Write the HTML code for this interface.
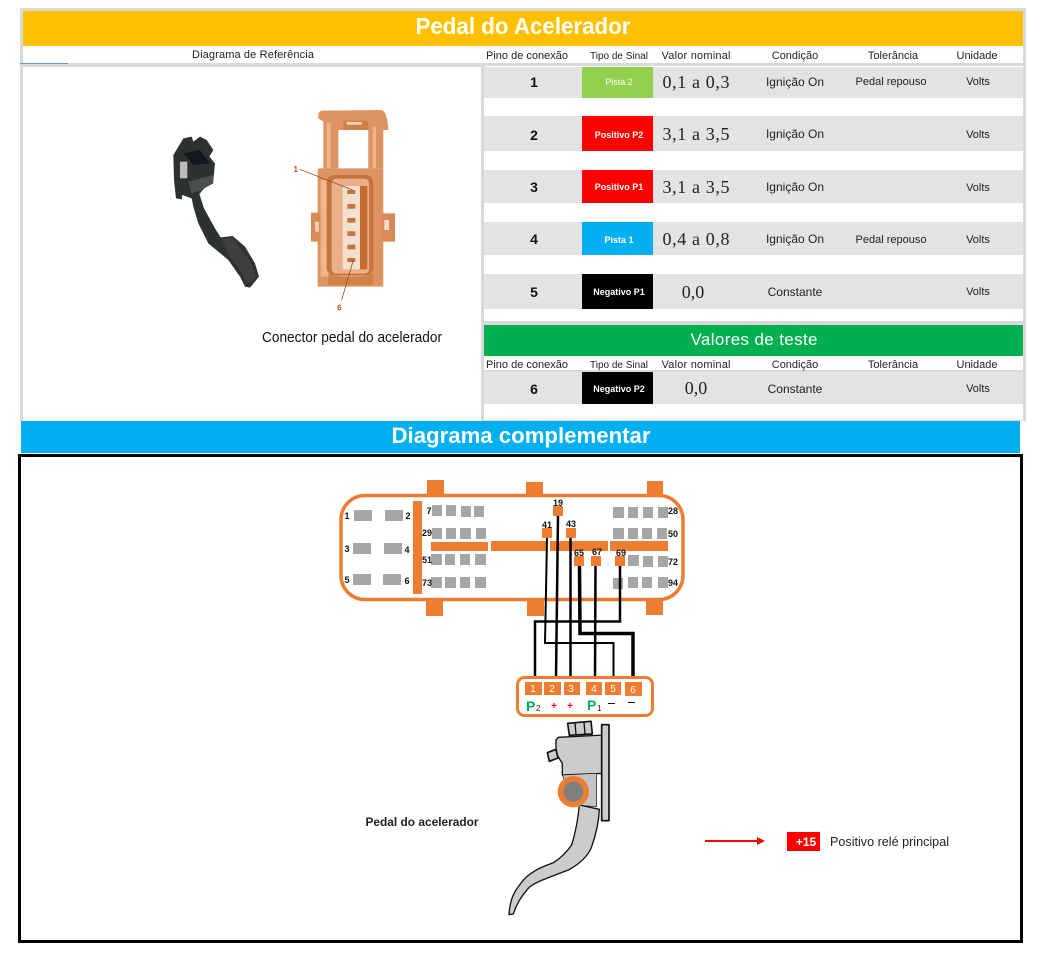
<!DOCTYPE html>
<html><head><meta charset="utf-8"><style>
html,body{margin:0;padding:0;background:#fff;width:1037px;height:961px;overflow:hidden}
svg{display:block}
text{font-family:"Liberation Sans",sans-serif}
.h{font-size:11px;fill:#222;text-anchor:middle}
.c{font-size:12px;fill:#222;text-anchor:middle}
.u{font-size:11px;fill:#222;text-anchor:middle}
.n{font-size:14px;font-weight:bold;fill:#111;text-anchor:middle}
.v{font-family:"Liberation Serif",serif;font-size:18px;fill:#222;text-anchor:middle}
.s{font-size:9px;font-weight:bold;fill:#fff;text-anchor:middle}
.p{font-size:9px;font-weight:bold;fill:#111;text-anchor:middle}
.w{font-size:10px;fill:#fff;text-anchor:middle}
</style></head><body>
<svg width="1037" height="961" viewBox="0 0 1037 961" xmlns="http://www.w3.org/2000/svg">
<rect width="1037" height="961" fill="#fff"/>
<!-- frame -->
<rect x="20" y="8" width="1006" height="413" fill="#d9d9d9"/>
<rect x="23" y="11" width="1000" height="35" fill="#ffc000"/>
<rect x="23" y="46" width="1000" height="17" fill="#fff"/>
<rect x="20" y="63" width="48" height="1" fill="#5b9bd5"/>
<rect x="23" y="67" width="458" height="354" fill="#fff"/>
<rect x="484" y="66" width="539" height="255" fill="#fff"/>
<rect x="484" y="356" width="539" height="14" fill="#fff"/>
<rect x="484" y="372" width="539" height="48" fill="#fff"/>
<text x="523" y="34" font-size="23" font-weight="bold" fill="#fff" text-anchor="middle" textLength="215" lengthAdjust="spacingAndGlyphs">Pedal do Acelerador</text>
<text x="253" y="58" font-size="11" fill="#222" text-anchor="middle" textLength="122">Diagrama de Referência</text>
<!-- headers -->
<g>
<text class="h" x="527" y="59">Pino de conexão</text><text class="h" x="619" y="59" style="font-size:10px">Tipo de Sinal</text><text class="h" x="696" y="59" textLength="69">Valor nominal</text><text class="h" x="795" y="59">Condição</text><text class="h" x="893" y="59">Tolerância</text><text class="h" x="977" y="59">Unidade</text>
</g>
<!-- rows -->
<g fill="#e3e3e3">
<rect x="484" y="67" width="539" height="31"/><rect x="484" y="116" width="539" height="35"/><rect x="484" y="170" width="539" height="33"/><rect x="484" y="222" width="539" height="33"/><rect x="484" y="274" width="539" height="35"/><rect x="484" y="372" width="539" height="32"/>
</g>
<rect x="582" y="67" width="71" height="31" fill="#92d050"/>
<rect x="582" y="116" width="71" height="35" fill="#ff0000"/>
<rect x="582" y="170" width="71" height="33" fill="#ff0000"/>
<rect x="582" y="222" width="71" height="33" fill="#00b0f0"/>
<rect x="582" y="274" width="71" height="35" fill="#000"/>
<rect x="582" y="372" width="71" height="32" fill="#000"/>
<text class="n" x="534" y="87">1</text><text class="n" x="534" y="140">2</text><text class="n" x="534" y="192">3</text><text class="n" x="534" y="244">4</text><text class="n" x="534" y="297">5</text><text class="n" x="534" y="394">6</text>
<text class="s" x="619" y="85" style="font-weight:normal">Pista 2</text><text class="s" x="619" y="138">Positivo P2</text><text class="s" x="619" y="190">Positivo P1</text><text class="s" x="619" y="243">Pista 1</text><text class="s" x="619" y="295">Negativo P1</text><text class="s" x="619" y="392">Negativo P2</text>
<text class="v" x="696" y="88" textLength="67">0,1 a 0,3</text><text class="v" x="696" y="140" textLength="67">3,1 a 3,5</text><text class="v" x="696" y="193" textLength="67">3,1 a 3,5</text><text class="v" x="696" y="245" textLength="67">0,4 a 0,8</text><text class="v" x="693" y="298">0,0</text><text class="v" x="696" y="394">0,0</text>
<text class="c" x="795" y="86">Ignição On</text><text class="c" x="795" y="138">Ignição On</text><text class="c" x="795" y="191">Ignição On</text><text class="c" x="795" y="243">Ignição On</text><text class="c" x="795" y="296">Constante</text><text class="c" x="795" y="393">Constante</text>
<text class="u" x="891" y="85">Pedal repouso</text><text class="u" x="891" y="243">Pedal repouso</text>
<text class="u" x="978" y="85">Volts</text><text class="u" x="978" y="138">Volts</text><text class="u" x="978" y="191">Volts</text><text class="u" x="978" y="243">Volts</text><text class="u" x="978" y="295">Volts</text><text class="u" x="978" y="392">Volts</text>
<!-- green -->
<rect x="484" y="325" width="539" height="31" fill="#00b050"/>
<text x="754" y="345" font-size="17" fill="#fff" text-anchor="middle" textLength="127">Valores de teste</text>
<text class="h" x="527" y="368">Pino de conexão</text><text class="h" x="619" y="368" style="font-size:10px">Tipo de Sinal</text><text class="h" x="696" y="368" textLength="69">Valor nominal</text><text class="h" x="795" y="368">Condição</text><text class="h" x="893" y="368">Tolerância</text><text class="h" x="977" y="368">Unidade</text>
<!-- photo pedal -->
<g transform="translate(150,100) scale(.33333)">
<path d="M70 165L100 115L125 110L130 125L150 110L170 120L190 150L178 170L195 190L190 240L165 262L148 282L162 325L195 385L212 412L248 408L285 440L315 490L327 530L300 563L285 560L270 530L235 480L175 430L145 370L130 320L125 295L97 285L95 298L78 295L72 240Z" fill="#2e3131"/>
<path d="M100 160L150 150L180 190L130 195Z" fill="#15181a"/>
<path d="M115 245L190 225L190 250L150 272L125 280Z" fill="#4b4f50"/>
<rect x="90" y="185" width="22" height="50" fill="#bbb"/>
<path d="M215 415L250 415L305 490L318 530L295 555L270 510L235 465Z" fill="#3d3f3f"/>
</g>
<!-- photo connector -->
<g transform="translate(150,100) scale(.33333)">
<path d="M505 45Q505 32 520 32L695 30Q712 34 715 90L700 90L700 205L655 205L655 90L565 90L565 205L520 205L520 65L505 55Z" fill="#dd9362"/>
<rect x="580" y="62" width="75" height="28" fill="#cf8048"/>
<rect x="590" y="66" width="45" height="8" fill="#f4d2ba"/>
<rect x="530" y="70" width="12" height="135" fill="#eeb68f"/>
<rect x="668" y="80" width="10" height="125" fill="#eeb68f"/>
<rect x="503" y="205" width="197" height="355" rx="4" fill="#dd9362"/>
<rect x="483" y="338" width="30" height="87" fill="#d98a55"/>
<rect x="695" y="340" width="40" height="85" fill="#d98a55"/>
<rect x="495" y="365" width="12" height="30" fill="#f2cdb2"/>
<rect x="703" y="360" width="14" height="30" fill="#f5dcc9"/>
<rect x="512" y="240" width="30" height="290" fill="#eeb68f"/>
<rect x="530" y="225" width="140" height="300" rx="22" fill="#c4743c"/>
<rect x="545" y="236" width="112" height="285" rx="14" fill="#eab089"/>
<rect x="578" y="258" width="52" height="250" rx="6" fill="#f5dfcf"/>
<rect x="630" y="258" width="22" height="250" fill="#c56c30"/>
<g fill="#c4743c"><rect x="592" y="270" width="24" height="12"/><rect x="592" y="312" width="24" height="14"/><rect x="592" y="354" width="24" height="14"/><rect x="592" y="394" width="24" height="14"/><rect x="592" y="434" width="24" height="14"/><rect x="592" y="474" width="24" height="12"/></g>
<path d="M535 520Q600 545 670 520L670 555L535 555Z" fill="#d08248"/>
<path d="M450 208L608 270M575 600L610 480" stroke="#9c5220" stroke-width="2.500" fill="none"/>
<text x="437" y="216" font-size="24" font-weight="bold" fill="#a8561c" text-anchor="middle">1</text>
<text x="568" y="632" font-size="24" font-weight="bold" fill="#a8561c" text-anchor="middle">6</text>
</g>
<text x="352" y="342" font-size="15" fill="#111" text-anchor="middle" textLength="180" lengthAdjust="spacingAndGlyphs">Conector pedal do acelerador</text>
<!-- blue -->
<rect x="21" y="421" width="999" height="32" fill="#00b0f0"/>
<text x="521" y="443" font-size="22" font-weight="bold" fill="#fff" text-anchor="middle" textLength="259" lengthAdjust="spacingAndGlyphs">Diagrama complementar</text>
<!-- box -->
<rect x="19.500" y="455.500" width="1002" height="486" fill="#fff" stroke="#000" stroke-width="3"/>
<!-- ECU -->
<g fill="#ed7d31">
<rect x="427" y="480" width="17" height="15"/><rect x="526" y="482" width="17" height="13"/><rect x="647" y="481" width="16" height="14"/>
<rect x="426" y="599" width="17" height="17"/><rect x="527" y="599" width="17" height="17"/><rect x="646" y="599" width="17" height="16"/>
</g>
<rect x="341" y="495.500" width="342" height="104" rx="24" fill="#fff" stroke="#ed7d31" stroke-width="3.500"/>
<g fill="#ed7d31">
<rect x="413" y="501" width="9" height="93"/>
<rect x="431" y="542" width="57" height="9"/><rect x="491" y="541" width="55" height="10"/><rect x="550" y="541" width="58" height="10"/><rect x="610" y="541" width="58" height="10"/>
</g>
<g fill="#a6a6a6">
<rect x="354" y="510" width="18" height="11"/><rect x="385" y="510" width="18" height="11"/><rect x="353" y="543" width="18" height="11"/><rect x="384" y="543" width="18" height="11"/><rect x="353" y="574" width="18" height="11"/><rect x="383" y="574" width="18" height="11"/>
<rect x="432" y="505" width="10" height="11"/><rect x="446" y="505" width="10" height="11"/><rect x="461" y="506" width="10" height="11"/><rect x="474" y="506" width="10" height="11"/>
<rect x="432" y="528" width="10" height="11"/><rect x="446" y="528" width="10" height="11"/><rect x="460" y="528" width="11" height="11"/><rect x="476" y="528" width="10" height="11"/>
<rect x="431" y="554" width="11" height="11"/><rect x="445" y="554" width="10" height="11"/><rect x="460" y="554" width="10" height="11"/><rect x="475" y="554" width="11" height="11"/>
<rect x="431" y="577" width="11" height="11"/><rect x="445" y="577" width="11" height="11"/><rect x="460" y="577" width="10" height="11"/><rect x="475" y="577" width="11" height="11"/>
<rect x="613" y="507" width="11" height="11"/><rect x="628" y="507" width="10" height="11"/><rect x="643" y="507" width="10" height="11"/><rect x="658" y="507" width="10" height="11"/>
<rect x="613" y="528" width="11" height="11"/><rect x="628" y="528" width="10" height="11"/><rect x="642" y="528" width="10" height="11"/><rect x="657" y="528" width="10" height="11"/>
<rect x="628" y="555" width="11" height="11"/><rect x="643" y="556" width="10" height="11"/><rect x="658" y="556" width="10" height="11"/>
<rect x="613" y="578" width="10" height="11"/><rect x="628" y="577" width="10" height="11"/><rect x="642" y="577" width="10" height="11"/><rect x="658" y="577" width="10" height="11"/>
</g>
<g fill="#ed7d31">
<rect x="553" y="506" width="10" height="10"/><rect x="542" y="528" width="10" height="10"/><rect x="566" y="528" width="10" height="10"/><rect x="574" y="556" width="10" height="10"/><rect x="591" y="556" width="10" height="10"/><rect x="615" y="556" width="10" height="10"/>
</g>
<g>
<text class="p" x="347" y="519">1</text><text class="p" x="408" y="519">2</text><text class="p" x="347" y="552">3</text><text class="p" x="407" y="553">4</text><text class="p" x="347" y="583">5</text><text class="p" x="407" y="584">6</text>
<text class="p" x="429" y="514">7</text><text class="p" x="427" y="536">29</text><text class="p" x="427" y="563">51</text><text class="p" x="427" y="586">73</text>
<text class="p" x="673" y="514">28</text><text class="p" x="673" y="537">50</text><text class="p" x="673" y="565">72</text><text class="p" x="673" y="586">94</text>
<text class="p" x="558" y="506">19</text><text class="p" x="547" y="528">41</text><text class="p" x="571" y="527">43</text><text class="p" x="579" y="556">65</text><text class="p" x="597" y="555">67</text><text class="p" x="621" y="556">69</text>
</g>
<!-- wires -->
<g fill="none" stroke="#000" stroke-linejoin="miter">
<path d="M558 516L556 677" stroke-width="2.500"/>
<path d="M547 538L545 643L613.500 643L613.500 677" stroke-width="2"/>
<path d="M570.500 538L570.500 677" stroke-width="2.500"/>
<path d="M579.500 566L580 633.500L633 633.500L633 677" stroke-width="3.500"/>
<path d="M595.500 566L595 677" stroke-width="2.500"/>
<path d="M620 566L620 621.500L535 621.500L535 677" stroke-width="2.500"/>
</g>
<!-- pedal connector -->
<rect x="517.500" y="677.500" width="135" height="38" rx="7" fill="#fff" stroke="#ed7d31" stroke-width="3"/>
<g fill="#ed7d31">
<rect x="525" y="682" width="17" height="13"/><rect x="544" y="682" width="17" height="13"/><rect x="564" y="682" width="16" height="13"/><rect x="586" y="682" width="16" height="13"/><rect x="605" y="682" width="16" height="13"/><rect x="625" y="682" width="17" height="14"/>
</g>
<text class="w" x="533" y="692">1</text><text class="w" x="552" y="692">2</text><text class="w" x="571" y="692">3</text><text class="w" x="594" y="692">4</text><text class="w" x="613" y="692">5</text><text class="w" x="633" y="693">6</text>
<text x="526" y="711" font-size="14" font-weight="bold" fill="#00b050">P</text><text x="536" y="711" font-size="8" fill="#111">2</text>
<text x="554" y="709" font-size="10" font-weight="bold" fill="#f00" text-anchor="middle">+</text><text x="570" y="709" font-size="10" font-weight="bold" fill="#f00" text-anchor="middle">+</text>
<text x="587" y="710" font-size="14" font-weight="bold" fill="#00b050">P</text><text x="597" y="711" font-size="8" fill="#111">1</text>
<rect x="608" y="703" width="7" height="1" fill="#111"/><rect x="628" y="702" width="7" height="1" fill="#111"/>
<!-- pedal drawing -->
<g transform="translate(490,710) scale(.33333)" stroke="#111" stroke-linejoin="round">
<path d="M233 40L303 34L307 72L238 76Z" fill="#ccc" stroke-width="5"/>
<path d="M255 38L258 74M282 36L285 72" fill="none" stroke-width="4"/>
<path d="M205 82L345 75L345 190L217 195L217 160L198 130L198 90Z" fill="#ccc" stroke-width="4"/>
<rect x="335" y="44" width="22" height="288" fill="#ccc" stroke-width="5"/>
<path d="M172 128L198 118L204 144L178 154Z" fill="#ccc" stroke-width="5"/>
<path d="M217 195L320 190L320 290L250 285Z" fill="#c4c4c4" stroke-width="2"/>
<path d="M268 285L328 298Q326 350 305 410Q290 450 235 480Q195 495 170 505Q135 518 120 530Q85 565 70 612L57 614Q60 570 75 545Q90 520 110 500Q135 480 160 470L190 458Q220 440 245 405Q262 350 268 285Z" fill="#ccc" stroke-width="4"/>
<circle cx="250" cy="245" r="38.500" fill="#7f7f7f" stroke="#ed7d31" stroke-width="17"/>
</g>
<text x="422" y="826" font-size="12" font-weight="bold" fill="#222" text-anchor="middle" textLength="113" lengthAdjust="spacingAndGlyphs">Pedal do acelerador</text>
<!-- legend -->
<path d="M705 841H758" stroke="#f00" stroke-width="2"/><path d="M757 837L765 841L757 845Z" fill="#f00"/>
<rect x="787" y="832" width="33" height="19" fill="#f00"/>
<text x="806" y="846" font-size="12" font-weight="bold" fill="#fff" text-anchor="middle">+15</text>
<text x="830" y="846" font-size="13" fill="#222" textLength="119" lengthAdjust="spacingAndGlyphs">Positivo relé principal</text>
</svg>
</body></html>
